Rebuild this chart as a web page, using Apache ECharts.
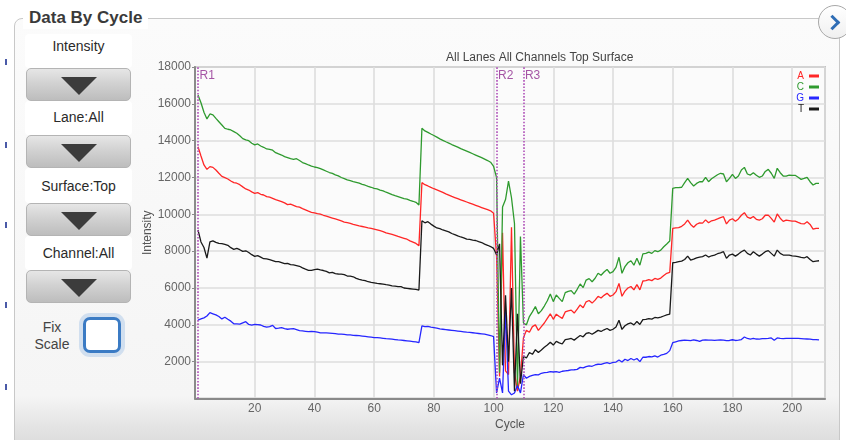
<!DOCTYPE html>
<html>
<head>
<meta charset="utf-8">
<title>Data By Cycle</title>
<script src="https://cdn.jsdelivr.net/npm/echarts@6/dist/echarts.min.js"></script>
<style>
  html, body { margin: 0; padding: 0; }
  body {
    width: 846px; height: 440px; overflow: hidden; position: relative;
    background: #ffffff;
    font-family: "Liberation Sans", Arial, sans-serif;
  }
  #panel {
    position: absolute; left: 14px; top: 18px; width: 826px; height: 440px;
    border: 1px solid #c8c8c8; border-radius: 8px; box-sizing: border-box;
    background: linear-gradient(to bottom, #fbfbfb 0%, #f5f5f5 86%, #e4e4e4 93%, #d6d6d6 100%);
  }
  #panelTitle {
    position: absolute; left: 23px; top: 7px; padding: 0 6px;
    background: #ffffff; color: #3a3a3a; font-weight: bold; font-size: 17px;
    line-height: 22px;
  }
  .ctlLabel {
    position: absolute; left: 25px; width: 107px; background: #ffffff;
    text-align: center; font-size: 14px; color: #2a2a2a; border-radius: 4px;
  }
  .ctlButton {
    position: absolute; left: 26px; width: 105px; height: 33px; box-sizing: border-box;
    border: 1px solid #b4b4b4; border-radius: 5px;
    background: linear-gradient(to bottom, #e6e6e6 0%, #d2d2d2 45%, #bdbdbd 100%);
  }
  .ctlButton::after {
    content: ""; position: absolute; left: 34px; top: 8px; width: 0; height: 0;
    border-left: 18px solid transparent; border-right: 18px solid transparent;
    border-top: 18px solid #3c3c3c;
  }
  .fixText { position: absolute; left: 30px; width: 44px; text-align: center; font-size: 14px; color: #444; }
  #fixBox {
    position: absolute; left: 83px; top: 317px; width: 38px; height: 36px; box-sizing: border-box;
    border: 3px solid #3b7bc4; border-radius: 7px; background: #ffffff;
    box-shadow: 0 0 0 4px rgba(140, 180, 225, 0.35);
  }
  .edgeMark { position: absolute; left: 5px; width: 2px; height: 6px; background: #4a5aa8; }
  #nextBtn {
    position: absolute; left: 818px; top: 5px; width: 34px; height: 34px; box-sizing: border-box;
    border: 1px solid #a8a8a8; border-radius: 50%;
    background: linear-gradient(to bottom, #ffffff 0%, #f0f0f0 100%);
  }
  #nextBtn::after {
    content: ""; position: absolute; left: 8px; top: 11px; width: 8px; height: 8px;
    border-top: 3px solid #2f6db5; border-right: 3px solid #2f6db5; transform: rotate(45deg);
  }
  #chart { position: absolute; left: 0; top: 0; width: 846px; height: 440px; }
</style>
</head>
<body>
<div id="panel"></div>
<div id="panelTitle">Data By Cycle</div>

<div class="edgeMark" style="top:59px"></div>
<div class="edgeMark" style="top:142px"></div>
<div class="edgeMark" style="top:222px"></div>
<div class="edgeMark" style="top:302px"></div>
<div class="edgeMark" style="top:384px"></div>

<div class="ctlLabel" style="top:34px; height:34px; line-height:24px;">Intensity</div>
<div class="ctlButton" style="top:68px"></div>
<div class="ctlLabel" style="top:101px; height:34px; line-height:32px;">Lane:All</div>
<div class="ctlButton" style="top:135px"></div>
<div class="ctlLabel" style="top:168px; height:35px; line-height:36px;">Surface:Top</div>
<div class="ctlButton" style="top:203px"></div>
<div class="ctlLabel" style="top:236px; height:34px; line-height:34px;">Channel:All</div>
<div class="ctlButton" style="top:270px"></div>
<div class="fixText" style="top:319px">Fix</div>
<div class="fixText" style="top:336px">Scale</div>
<div id="fixBox"></div>
<div id="nextBtn"></div>

<div id="chart"></div>

<script>
// Channel intensity per cycle (cycles 1..209), all lanes, top surface.
const channelNames = ['A', 'C', 'G', 'T'];
const channelColors = ['#ff2626', '#2e9a2e', '#2626ff', '#1a1a1a'];

const intensityA = [
  // 1-43
  13670,13170,12680,12440,12590,12550,12410,12230,12060,11990,11920,11810,11720,11690,11610,11490,11380,11320,11220,11140,11180,11090,11050,10960,10930,10870,10800,10750,10690,10620,10530,10550,10490,10420,10390,10310,10240,10170,10110,10080,10040,10010,9950,
  // 44-75
  9900,9850,9800,9750,9700,9640,9580,9550,9510,9460,9420,9370,9340,9310,9270,9240,9200,9160,9110,9060,8990,8950,8910,8860,8800,8750,8700,8650,8560,8490,8420,8300,
  // 76-100
  11720,11610,11540,11460,11390,11330,11260,11190,11110,11040,10970,10910,10850,10790,10730,10670,10610,10550,10490,10430,10370,10310,10250,10190,10060,
  // 101-110
  7700,1200,9000,1500,1300,9300,1400,400,1200,3300,
  // 111-115
  3700,3600,3900,4000,3700,
  // 116-159
  3900,4100,4350,4600,4300,4580,4450,4350,4700,4760,4800,4640,4850,5080,4930,5250,5320,5180,5340,5550,5460,5600,5720,5550,5620,5800,6250,5550,5830,6000,6080,5900,6180,5900,6380,6400,6460,6400,6520,6470,6540,6680,6800,6850,
  // 160-209
  9240,9260,9280,9350,9480,9690,9450,9300,9460,9540,9520,9700,9540,9650,9690,9750,9820,9870,9480,9690,9760,9620,9750,9950,10090,9850,9780,9880,9730,9690,9760,9950,9960,9780,9580,10020,9790,9620,9690,9660,9630,9630,9560,9500,9480,9600,9450,9200,9240,9240
];

const intensityC = [
  // 1-43
  16480,16060,15540,15180,15450,15400,15210,15030,14850,14670,14620,14580,14490,14400,14270,14110,14040,14000,13860,13770,13820,13710,13640,13550,13530,13480,13350,13280,13220,13130,13080,13020,12990,13020,12920,12810,12750,12680,12620,12570,12540,12480,12410,
  // 44-75
  12340,12270,12220,12140,12090,12000,11940,11870,11830,11780,11740,11690,11630,11580,11520,11470,11410,11380,11320,11270,11200,11140,11070,11010,10960,10910,10850,10820,10760,10710,10650,10510,
  // 76-100
  14670,14530,14450,14360,14280,14190,14100,14020,13940,13870,13790,13720,13650,13570,13500,13430,13360,13290,13220,13150,13080,13000,12920,12830,12600,
  // 101-110
  12000,1400,10400,10800,11800,10900,9500,600,8800,4100,
  // 111-115
  4000,4450,4700,4990,4600,
  // 116-159
  4770,5020,5310,5670,5260,5620,5440,5260,5750,5820,5860,5670,5930,6220,6020,6430,6510,6340,6530,6800,6690,6870,7010,6800,6890,7120,7670,6800,7160,7370,7480,7240,7610,7240,7850,7880,7950,7880,8030,7970,8060,8240,8390,8550,
  // 160-209
  11410,11450,11450,11470,11720,11950,11720,11540,11680,11770,11770,12010,11770,11930,12040,12150,12230,12190,11770,11950,12170,11950,12080,12410,12550,12190,12130,12260,12120,12010,12080,12330,12440,12230,11950,12500,12260,12080,12080,12130,12120,12120,12010,11900,11950,12010,11770,11590,11680,11680
];

const intensityG = [
  // 1-43
  4260,4320,4380,4480,4660,4600,4540,4450,4320,4410,4300,4200,4060,4050,4040,4110,4170,4020,3990,4030,4010,3990,3920,3870,3900,3970,3800,3820,3850,3800,3760,3780,3790,3740,3690,3670,3650,3630,3640,3630,3600,3560,3560,
  // 44-75
  3560,3550,3540,3520,3500,3490,3480,3460,3450,3430,3420,3410,3390,3370,3350,3330,3310,3300,3290,3270,3250,3240,3220,3200,3180,3170,3150,3130,3110,3090,3070,3030,
  // 76-100
  3940,3900,3920,3880,3850,3820,3780,3760,3740,3720,3700,3680,3660,3640,3620,3600,3590,3570,3550,3530,3510,3490,3460,3420,3360,
  // 101-110
  300,1100,300,4800,400,200,300,700,300,1300,
  // 111-115
  1100,1200,1250,1300,1280,
  // 116-159
  1370,1400,1420,1460,1440,1460,1420,1480,1500,1520,1550,1560,1580,1690,1660,1730,1770,1750,1820,1860,1850,1910,1950,1900,1960,1980,2090,1980,2130,2060,2170,2090,2170,2000,2240,2240,2280,2260,2310,2250,2350,2390,2450,2600,
  // 160-209
  3030,3080,3130,3150,3170,3160,3140,3180,3150,3100,3170,3180,3170,3170,3160,3170,3180,3170,3140,3150,3190,3150,3170,3200,3340,3260,3230,3260,3230,3220,3250,3250,3260,3290,3160,3290,3260,3250,3260,3260,3260,3260,3260,3250,3240,3230,3220,3200,3200,3180
];

const intensityT = [
  // 1-43
  9150,8500,8200,7620,8500,8560,8480,8420,8410,8370,8320,8190,8100,8150,8080,7990,8020,7930,7810,7720,7760,7680,7590,7580,7540,7490,7430,7430,7380,7320,7340,7270,7250,7220,7180,7090,7020,6960,6960,7000,7020,6980,6950,
  // 44-75
  6900,6820,6850,6780,6760,6750,6730,6650,6640,6610,6520,6470,6430,6400,6340,6300,6280,6250,6230,6210,6180,6160,6120,6100,6080,6070,6000,5980,5960,5940,5920,5890,
  // 76-100
  9650,9540,9600,9470,9360,9260,9220,9150,9100,9050,8960,8900,8830,8770,8720,8650,8640,8600,8580,8520,8470,8380,8320,8250,8150,
  // 101-110
  7800,8400,1800,5600,2000,6000,400,4600,800,2300,
  // 111-115
  2200,2500,2400,2650,2500,
  // 116-159
  2630,2780,2900,3050,2900,3100,3020,2960,3200,3230,3260,3170,3300,3420,3350,3530,3570,3490,3590,3700,3640,3730,3800,3700,3760,3880,4250,3750,3950,4050,4100,4000,4180,4020,4280,4300,4340,4310,4400,4380,4420,4480,4540,4580,
  // 160-209
  7370,7390,7430,7460,7550,7730,7520,7570,7640,7680,7700,7790,7680,7750,7790,7860,7910,7970,7610,7790,7840,7730,7840,7970,8060,7880,7790,7970,7840,7730,7840,7970,8030,7880,7730,8060,7880,7790,7790,7790,7750,7730,7700,7660,7630,7700,7550,7430,7460,7480
];

// Read boundaries (cycle where each read starts)
const readStarts = [1, 101, 110];
const readNames = ['R1', 'R2', 'R3'];

const xTicks = { min: 0, max: 211, interval: 20 };
const yTicks = { min: 0, max: 18000, interval: 2000 };

const channelValues = [intensityA, intensityC, intensityG, intensityT];

function toPoints(values) {
  return values.map((v, i) => [i + 1, v]);
}

const fontFamily = '"Liberation Sans", Arial, sans-serif';
const chart = echarts.init(document.getElementById('chart'), null, { renderer: 'canvas' });

const lineSeries = channelNames.map((name, i) => ({
  name: name,
  type: 'line',
  data: toPoints(channelValues[i]),
  showSymbol: false,
  symbol: 'none',
  animation: false,
  z: 3,
  lineStyle: { color: channelColors[i], width: 1.3 },
  itemStyle: { color: channelColors[i] }
}));

const readSeries = {
  name: 'reads',
  type: 'scatter',
  z: 2,
  silent: true,
  animation: false,
  symbolSize: 1,
  itemStyle: { color: 'rgba(0,0,0,0)' },
  data: readStarts.map(c => [c, yTicks.max]),
  label: {
    show: true,
    position: 'right',
    distance: 1,
    offset: [0, 9],
    color: '#8e2a8e',
    fontSize: 12,
    fontFamily: fontFamily,
    formatter: p => readNames[p.dataIndex]
  },
  markLine: {
    silent: true,
    symbol: 'none',
    animation: false,
    label: { show: false },
    lineStyle: { color: '#b050b8', type: 'dotted', width: 1.6 },
    data: readStarts.map(c => ({ xAxis: c }))
  }
};

chart.setOption({
  animation: false,
  textStyle: { fontFamily: fontFamily },
  title: {
    text: 'All Lanes All Channels Top Surface',
    left: 441,
    top: 47,
    textStyle: { fontSize: 12, fontWeight: 'normal', color: '#444444', fontFamily: fontFamily }
  },
  legend: {
    orient: 'vertical',
    right: 27,
    top: 71,
    align: 'right',
    icon: 'rect',
    itemWidth: 10,
    itemHeight: 3,
    itemGap: 1,
    padding: 0,
    selectedMode: false,
    data: channelNames.map((n, i) => ({ name: n, textStyle: { color: channelColors[i] } })),
    textStyle: { fontSize: 10, padding: [0, 0, 0, 0], fontFamily: fontFamily }
  },
  grid: {
    left: 195,
    right: 21,
    top: 67,
    bottom: 41.5,
    show: true,
    backgroundColor: '#fbfbfb',
    borderColor: '#9a9a9a',
    borderWidth: 1.5
  },
  xAxis: {
    type: 'value',
    min: xTicks.min,
    max: xTicks.max,
    interval: xTicks.interval,
    name: 'Cycle',
    nameLocation: 'middle',
    nameGap: 20,
    nameMoveOverlap: false,
    nameTextStyle: { color: '#555555', fontSize: 12 },
    axisLine: { show: true, lineStyle: { color: '#8a8a8a', width: 2 } },
    axisTick: { show: false },
    axisLabel: { color: '#666666', fontSize: 12, margin: 4, showMinLabel: false, showMaxLabel: false,
                 formatter: v => String(v) },
    splitLine: { show: true, lineStyle: { color: '#dedede', width: 1.6 } }
  },
  yAxis: {
    type: 'value',
    min: yTicks.min,
    max: yTicks.max,
    interval: yTicks.interval,
    name: 'Intensity',
    nameLocation: 'middle',
    nameRotate: 90,
    nameGap: 41,
    nameMoveOverlap: false,
    nameTextStyle: { color: '#555555', fontSize: 12 },
    axisLine: { show: true, lineStyle: { color: '#8a8a8a', width: 2 } },
    axisTick: { show: true, length: 3, lineStyle: { color: '#8a8a8a' } },
    axisLabel: { color: '#666666', fontSize: 12, margin: 4, showMinLabel: false,
                 formatter: v => String(v) },
    splitLine: { show: true, lineStyle: { color: '#dedede', width: 1.6 } }
  },
  series: [readSeries].concat(lineSeries)
});
</script>
</body>
</html>
